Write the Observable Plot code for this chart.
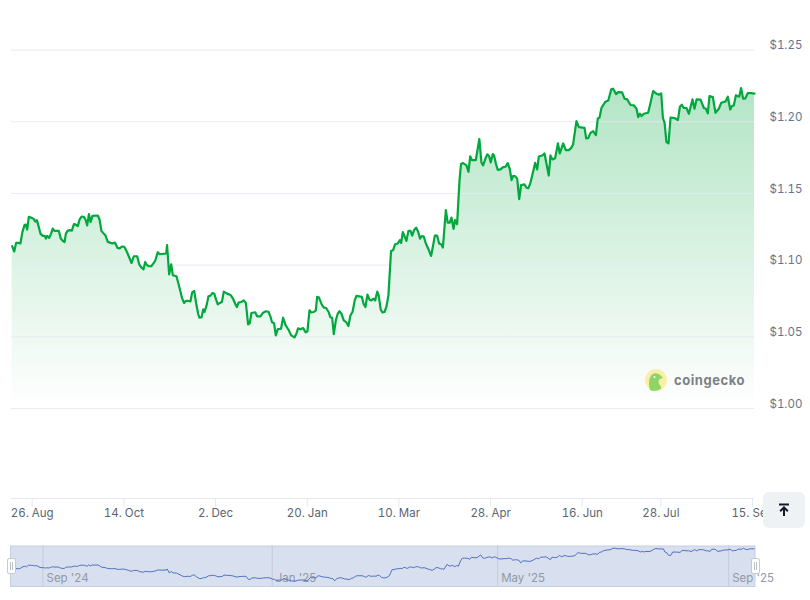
<!DOCTYPE html>
<html>
<head>
<meta charset="utf-8">
<script src="https://cdn.jsdelivr.net/npm/d3@7"></script>
<script src="https://cdn.jsdelivr.net/npm/@observablehq/plot@0.6"></script>
<style>
html,body{margin:0;padding:0;background:#fff;overflow:hidden;width:810px;height:600px;font-family:Inter,sans-serif}
#main,#nav{position:absolute;left:0}
#main{top:0}#nav{top:540px}
svg{overflow:visible}
#btn{position:absolute;left:763px;top:492px;width:41.5px;height:36px;border-radius:6px;background:#eff2f5;display:flex;align-items:center;justify-content:center}
.handle{position:absolute;top:557.5px;width:7px;height:14px;background:#fff;border:1px solid #c4cbd8;border-radius:2px;box-sizing:content-box}
.handle:before{content:"";position:absolute;left:2px;top:3px;width:1px;height:8px;background:#b9c0cc;box-shadow:2px 0 0 #b9c0cc}
#logo{position:absolute;left:645px;top:369px;width:22px;height:22px}
#logotext{position:absolute;left:674px;top:370.5px;font:700 13px/18px Inter,sans-serif;letter-spacing:.55px;color:#7c8087}
</style>
</head>
<body>
<div id="main"></div>
<div id="nav"></div>
<svg id="logo" viewBox="0 0 22 22"><circle cx="11" cy="11" r="11" fill="#fbeea8"/><path d="M5 21 C3 14 4 6 9 4.5 C13 3.5 16 6 18 9 C15 9.5 13.5 10.5 13.5 13 C14 16 17 17.5 16 19.5 C12 22.5 8 22.5 5 21Z" fill="#8fd466"/><circle cx="9.5" cy="8" r="1" fill="#fff"/></svg>
<div id="logotext">coingecko</div>
<div id="btn"><svg width="14" height="14" viewBox="0 0 14 14"><path d="M2 1.5H12" stroke="#111827" stroke-width="2"/><path d="M7 13V5M3.2 8.2L7 4.4L10.8 8.2" stroke="#111827" stroke-width="2" fill="none"/></svg></div>
<div class="handle" style="left:6.5px"></div>
<div class="handle" style="left:750.5px"></div>
<script>
const firstTick = Date.UTC(2024, 7, 26);
const days = [-10.7,-9.6,-8.6,-7.0,-6.3,-5.2,-4.1,-3.4,-2.7,-1.8,0,0.9,1.6,2.5,3.4,4.4,5.5,6.8,7.3,8.0,9.1,10.1,11.0,11.9,14.2,15.3,16.4,17.3,18.0,18.9,20.1,21.2,22.3,23.3,24.4,25.3,26.4,27.6,28.5,29.4,30.3,31.2,32.2,35.1,36.0,37.0,37.9,39.2,40.4,41.9,42.9,44.3,45.6,46.8,47.9,49.3,50.4,51.6,53.1,54.3,56.1,57.2,58.6,59.5,60.4,61.4,62.5,63.6,64.7,65.7,67.1,68.2,71.6,72.1,73.2,74.3,75.2,77.1,78.4,80.2,81.2,82.1,83.5,84.6,85.5,86.6,87.6,88.7,89.4,90.5,91.4,92.1,93.2,94.2,95.3,96.4,97.3,98.3,99.2,100.3,101.4,102.4,104.2,106.0,107.4,108.8,109.4,110.3,111.7,113.1,114.2,115.4,116.3,117.2,119.2,120.2,122.0,123.4,124.9,126.3,127.3,128.2,129.3,130.2,131.3,133.0,134.1,135.5,137.0,138.4,140.2,141.2,142.1,143.4,144.8,146.2,147.1,148.2,149.1,150.5,151.6,152.3,153.2,155.0,156.0,157.1,158.5,159.4,160.3,161.2,162.3,163.3,164.2,165.3,166.5,167.8,169.0,170.1,171.2,172.4,173.3,174.6,176.2,177.1,178.1,179.2,180.3,181.3,182.4,183.3,184.4,185.2,186.3,187.2,188.3,189.3,190.4,191.8,192.9,194.0,195.4,196.5,197.2,198.1,199.0,200.0,201.1,202.2,203.1,204.1,205.2,206.3,207.3,208.2,209.3,210.4,211.8,213.2,214.3,215.2,216.4,217.5,218.7,219.5,221.1,222.1,223.2,224.1,225.2,226.0,227.1,228.4,229.2,230.3,232.1,233.2,234.1,235.0,237.1,239.0,240.1,241.0,242.3,243.3,244.2,245.1,246.2,246.9,247.8,248.8,250.3,251.5,252.9,254.2,255.3,256.2,257.0,258.1,259.2,260.3,261.3,263.1,264.2,265.2,266.3,267.8,268.8,269.9,270.8,272.6,273.8,276.1,277.0,278.1,279.5,281.0,282.0,283.8,285.2,286.8,288.1,289.1,290.9,292.2,295.2,296.1,297.2,298.4,299.8,301.3,302.3,303.2,304.3,306.4,307.9,309.5,310.5,312.1,313.2,315.3,316.6,318.0,319.8,321.6,323.0,323.9,324.8,325.7,326.9,329.2,330.5,331.9,333.5,334.9,336.2,337.1,338.0,339.0,340.1,341.2,343.3,345.1,346.2,347.2,348.3,349.7,351.0,352.9,354.0,355.1,357.2,359.0,360.1,361.1,362.0,363.8,365.2,367.0,368.3,370.6,371.8,373.1,374.0,375.0,376.1,377.9,378.9,380.0,381.1,382.5,384.3,386.06];
const prices = [1.1132,1.1095,1.1155,1.1155,1.1151,1.1232,1.1279,1.1283,1.1248,1.1337,1.1328,1.1321,1.1304,1.1314,1.1272,1.1220,1.1206,1.1202,1.1185,1.1204,1.1190,1.1220,1.1255,1.1239,1.1239,1.1185,1.1169,1.1160,1.1220,1.1239,1.1244,1.1241,1.1286,1.1283,1.1272,1.1318,1.1339,1.1337,1.1318,1.1276,1.1356,1.1300,1.1344,1.1346,1.1318,1.1239,1.1225,1.1206,1.1162,1.1155,1.1151,1.1157,1.1120,1.1116,1.1130,1.1127,1.1099,1.1062,1.1015,1.1062,1.1062,1.1006,1.0980,1.0971,1.1022,1.0999,1.0992,1.0992,1.1011,1.1029,1.1090,1.1076,1.1081,1.1139,1.0936,1.1006,1.0929,1.0922,1.0859,1.0766,1.0736,1.0750,1.0750,1.0747,1.0810,1.0820,1.0736,1.0661,1.0633,1.0636,1.0692,1.0673,1.0719,1.0782,1.0787,1.0806,1.0801,1.0759,1.0726,1.0736,1.0743,1.0815,1.0801,1.0792,1.0764,1.0722,1.0708,1.0738,1.0743,1.0754,1.0736,1.0587,1.0596,1.0666,1.0671,1.0643,1.0643,1.0668,1.0678,1.0675,1.0643,1.0601,1.0594,1.0510,1.0554,1.0556,1.0633,1.0580,1.0549,1.0510,1.0496,1.0521,1.0559,1.0552,1.0561,1.0531,1.0538,1.0685,1.0671,1.0673,1.0685,1.0778,1.0775,1.0719,1.0703,1.0701,1.0671,1.0636,1.0633,1.0519,1.0615,1.0661,1.0678,1.0661,1.0615,1.0603,1.0575,1.0650,1.0673,1.0754,1.0785,1.0782,1.0778,1.0731,1.0708,1.0794,1.0759,1.0754,1.0766,1.0754,1.0815,1.0789,1.0689,1.0671,1.0673,1.0708,1.0789,1.1099,1.1104,1.1146,1.1151,1.1174,1.1155,1.1230,1.1202,1.1169,1.1239,1.1239,1.1206,1.1244,1.1262,1.1232,1.1185,1.1202,1.1199,1.1151,1.1111,1.1064,1.1139,1.1206,1.1206,1.1151,1.1144,1.1123,1.1384,1.1297,1.1297,1.1332,1.1253,1.1314,1.1286,1.1593,1.1705,1.1712,1.1696,1.1651,1.1759,1.1733,1.1733,1.1880,1.1717,1.1696,1.1745,1.1773,1.1761,1.1717,1.1775,1.1763,1.1710,1.1665,1.1668,1.1682,1.1686,1.1712,1.1668,1.1593,1.1621,1.1621,1.1603,1.1460,1.1558,1.1563,1.1540,1.1537,1.1574,1.1655,1.1713,1.1667,1.1758,1.1765,1.1779,1.1625,1.1765,1.1737,1.1746,1.1849,1.1779,1.1849,1.1802,1.1802,1.1818,1.1842,1.2005,1.1963,1.1958,1.1884,1.1886,1.1923,1.1935,1.1907,1.2023,1.2028,1.2098,1.2140,1.2149,1.2226,1.2231,1.2193,1.2207,1.2205,1.2161,1.2156,1.2117,1.2114,1.2091,1.2033,1.2056,1.2040,1.2056,1.2063,1.2133,1.2214,1.2198,1.2189,1.2198,1.2028,1.1993,1.1858,1.1849,1.2030,1.2026,1.2012,1.2105,1.2119,1.2096,1.2096,1.2056,1.2156,1.2091,1.2156,1.2154,1.2096,1.2091,1.2058,1.2179,1.2172,1.2063,1.2091,1.2133,1.2142,1.2175,1.2086,1.2110,1.2114,1.2184,1.2175,1.2235,1.2161,1.2163,1.2200,1.2200,1.2196];
const yTicks = [1.00, 1.05, 1.10, 1.15, 1.20, 1.25];
const xTickDates = ["2024-08-26","2024-10-14","2024-12-02","2025-01-20","2025-03-10","2025-04-28","2025-06-16","2025-07-28","2025-09-15"];
const xTickLabels = ["26. Aug","14. Oct","2. Dec","20. Jan","10. Mar","28. Apr","16. Jun","28. Jul","15. Sep"];
const navDates = ["2024-09-01","2025-01-01","2025-05-01","2025-09-01"];
const navLabels = ["Sep '24","Jan '25","May '25","Sep '25"];

const toDate = d => new Date(firstTick + d * 864e5);
const series = days.map((d, i) => ({date: toDate(d), price: prices[i]}));
const xTicks = xTickDates.map(s => new Date(s));
const xLabelOf = new Map(xTicks.map((t, i) => [+t, xTickLabels[i]]));
const navTicks = navDates.map((s, i) => ({date: new Date(s), label: navLabels[i]}));

const defs = () => {
  const s = d3.create("svg:defs");
  const g = s.append("linearGradient").attr("id", "fade").attr("x1", 0).attr("x2", 0).attr("y1", 0).attr("y2", 1);
  g.append("stop").attr("offset", 0).attr("stop-color", "#00a83e").attr("stop-opacity", 0.3);
  g.append("stop").attr("offset", 1).attr("stop-color", "#00a83e").attr("stop-opacity", 0);
  return s.node();
};

const grid = "#e6e9ef";
const main = Plot.plot({
  width: 810, height: 540,
  marginTop: 49.6, marginBottom: 42, marginLeft: 11, marginRight: 56,
  style: {fontFamily: "Inter, sans-serif", fontSize: "12px", background: "transparent"},
  x: {type: "utc", domain: [toDate(-11.06), toDate(386.06)]},
  y: {domain: [0.9372, 1.25]},
  marks: [
    defs,
    Plot.areaY(series, {x: "date", y1: 1.0, y2: "price", fill: "url(#fade)"}),
    Plot.ruleY(yTicks, {stroke: grid, strokeWidth: 1, strokeOpacity: 0.9}),
    Plot.ruleY([0.9372], {stroke: grid, strokeWidth: 1}),
    Plot.line(series, {x: "date", y: "price", stroke: "#00a83e", strokeWidth: 2.2, curve: "linear"}),
    Plot.axisY({anchor: "right", ticks: yTicks, tickSize: 0, tickPadding: 15, dy: -4.5, label: null,
      tickFormat: d => "$" + d.toFixed(2), color: "#64768f", fontSize: 11.5}),
    Plot.axisX({anchor: "bottom", ticks: xTicks, tickSize: 9, tickPadding: 1, label: null, stroke: grid,
      tickFormat: d => xLabelOf.get(+d), color: "#5b6472", fontSize: 11.5})
  ]
});
document.getElementById("main").append(main);

const nav = Plot.plot({
  width: 810, height: 60,
  marginTop: 5.5, marginBottom: 14, marginLeft: 10, marginRight: 55.5,
  style: {fontFamily: "Inter, sans-serif", fontSize: "12px", background: "transparent"},
  x: {type: "utc", domain: [toDate(-11.3), toDate(385)], axis: null},
  y: {domain: [1.0216, 1.2347], axis: null},
  marks: [
    Plot.frame({fill: "#d8dfee", stroke: "#c6cfe2"}),
    Plot.ruleX(navTicks, {x: "date", stroke: "#c3cbdb", strokeWidth: 1}),
    Plot.text(navTicks, {x: "date", text: "label", frameAnchor: "bottom", dy: -5, dx: 3.5, textAnchor: "start", fill: "#9198a6", fontSize: 11.5}),
    Plot.line(series, {x: "date", y: "price", stroke: "#4f71bf", strokeWidth: 1, clip: "frame"})
  ]
});
document.getElementById("nav").append(nav);
</script>
</body>
</html>
